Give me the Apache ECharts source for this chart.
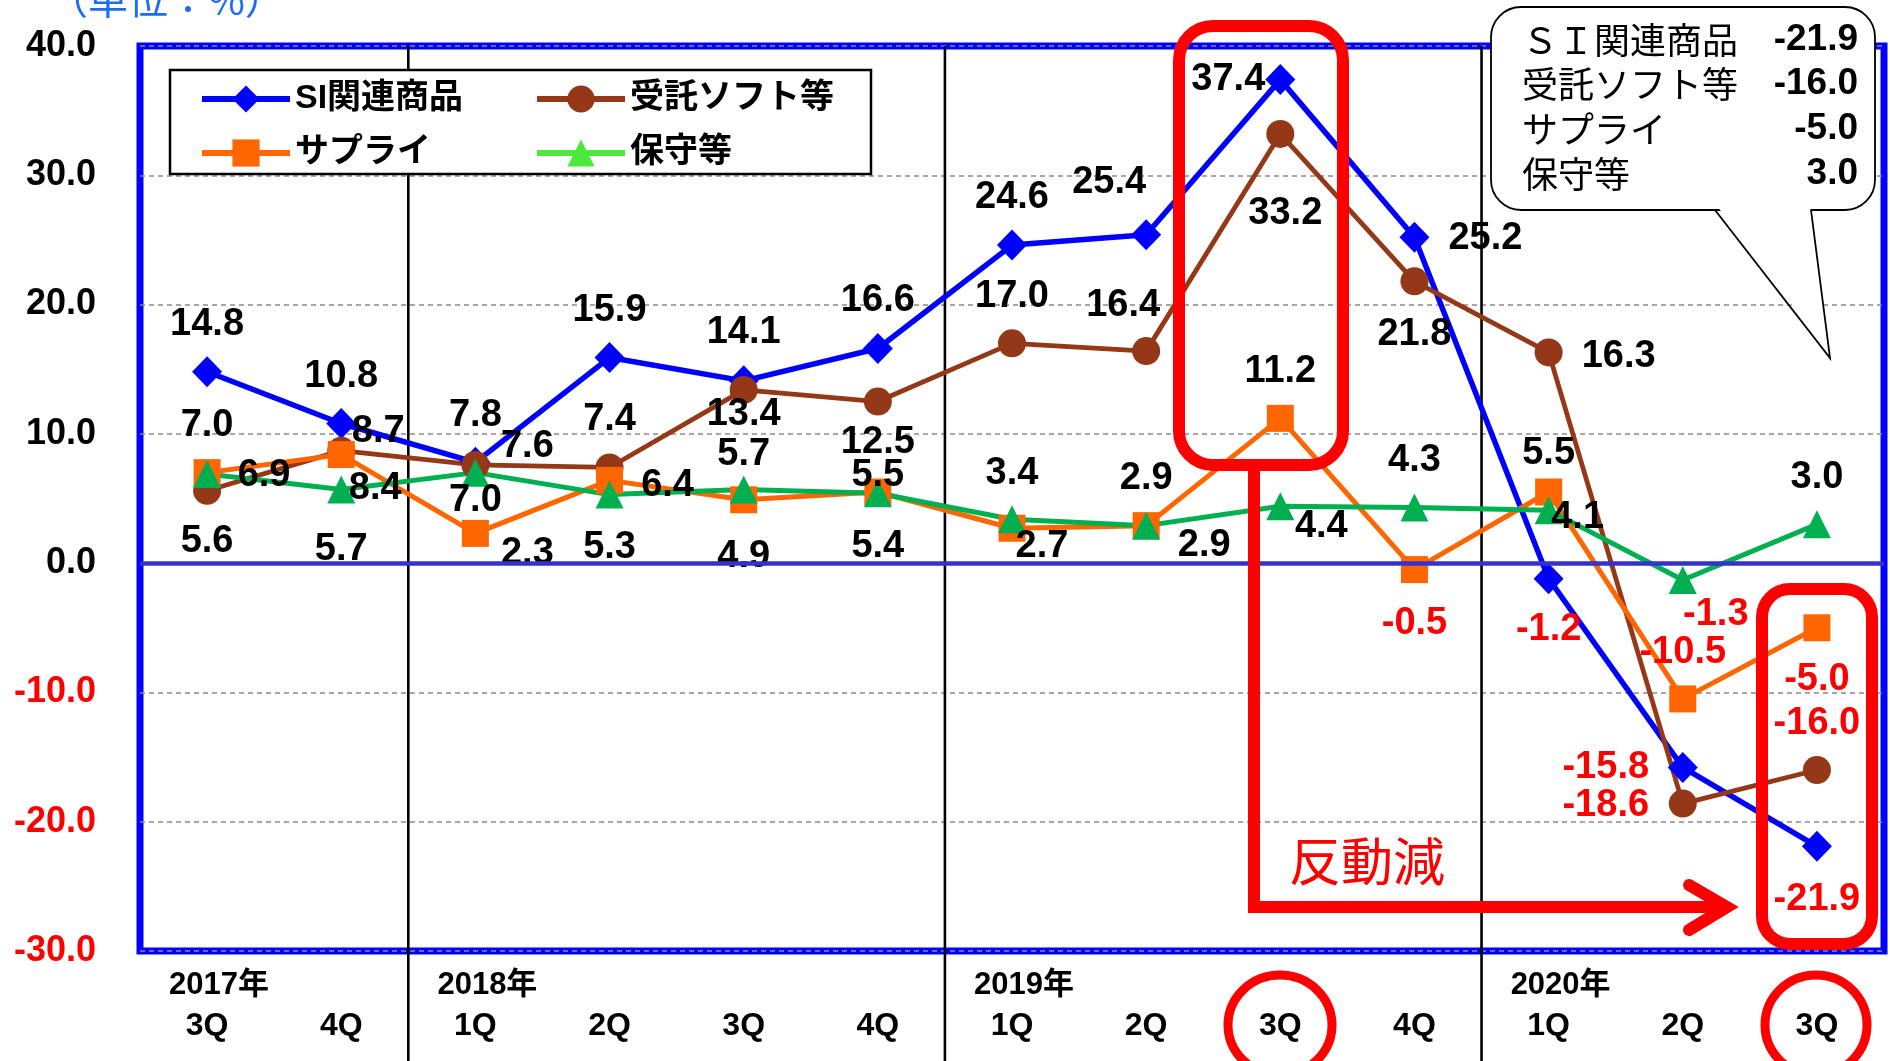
<!DOCTYPE html>
<html>
<head>
<meta charset="utf-8">
<title>SI関連商品 前年同期比</title>
<script src="https://cdn.jsdelivr.net/npm/echarts@6/dist/echarts.min.js"></script>
<style>
    html, body { margin: 0; padding: 0; background: #fff; }
    #main { width: 1890px; height: 1061px; }
</style>
</head>
<body>
<div id="main"></div>
<script>
(function () {
    'use strict';

    // categories (year shown on the first quarter of each year)
    var categories = ['2017年\n3Q', '4Q', '2018年\n1Q', '2Q', '3Q', '4Q', '2019年\n1Q', '2Q', '3Q', '4Q', '2020年\n1Q', '2Q', '3Q'];
    var seriesNames = ['SI関連商品', '受託ソフト等', 'サプライ', '保守等'];
    var calloutNames = ['ＳＩ関連商品', '受託ソフト等', 'サプライ', '保守等'];

    // values (%)
    var siValues = [14.8, 10.8, 7.8, 15.9, 14.1, 16.6, 24.6, 25.4, 37.4, 25.2, -1.2, -15.8, -21.9];
    var jutakuValues = [5.6, 8.7, 7.6, 7.4, 13.4, 12.5, 17.0, 16.4, 33.2, 21.8, 16.3, -18.6, -16.0];
    var supplyValues = [7.0, 8.4, 2.3, 6.4, 4.9, 5.5, 2.7, 2.9, 11.2, -0.5, 5.5, -10.5, -5.0];
    var hoshuValues = [6.9, 5.7, 7.0, 5.3, 5.7, 5.4, 3.4, 2.9, 4.4, 4.3, 4.1, -1.3, 3.0];

    // y axis
    var yMin = -30;
    var yMax = 40;
    var yStep = 10;

    // index of first quarter of each new year (separator lines)
    var yearStartIndex = [2, 6, 10];

    // label placement around each point (px)
    var siLabelOffsets = [[0, -47], [0, -47], [0, -47], [0, -47], [0, -48], [0, -48], [0, -48], [-37, -52], [-52, 0], [71, 1], [0, 51], [-77, 0], [0, 53]];
    var jutakuLabelOffsets = [[0, 51], [37, -19], [52, -18], [0, -48], [0, 25], [0, 41], [0, -47], [-23, -46], [5, 80], [0, 53], [70, 4], [-77, 2], [0, -46]];
    var supplyLabelOffsets = [[0, -47], [34, 34], [52, 20], [58, 5], [0, 57], [0, -17], [30, 18], [58, 20], [0, -47], [0, 54], [0, -39], [0, -46], [0, 52]];
    var hoshuLabelOffsets = [[57, 2], [0, 60], [0, 28], [0, 53], [0, -35], [0, 53], [0, -46], [0, -47], [41, 20], [0, -47], [29, 7], [33, 35], [0, -47]];

    var FONT = '"Liberation Sans", Arial, "Noto Sans CJK JP", sans-serif';

    function buildData(values, offsets) {
        return values.map(function (v, i) {
            return {
                value: v,
                label: { offset: offsets[i], color: v < 0 ? '#ff0000' : '#000000' }
            };
        });
    }

    function lineSeries(name, values, offsets, color, symbol, symbolSize, width) {
        return {
            name: name,
            type: 'line',
            data: buildData(values, offsets),
            symbol: symbol,
            symbolSize: symbolSize,
            showAllSymbol: true,
            lineStyle: { color: color, width: width },
            itemStyle: { color: color, borderWidth: 0 },
            label: {
                show: true,
                position: 'inside',
                fontFamily: FONT,
                fontSize: 38,
                fontWeight: 'bold',
                textBorderWidth: 0,
                formatter: function (p) { return p.value.toFixed(1); }
            },
            emphasis: { disabled: true }
        };
    }

    var legendText = { fontFamily: FONT, fontSize: 34, fontWeight: 'bold', color: '#000' };

    var series = [
        lineSeries(seriesNames[0], siValues, siLabelOffsets, '#0000ff', 'diamond', [30, 31], 5.5),
        lineSeries(seriesNames[1], jutakuValues, jutakuLabelOffsets, '#943818', 'circle', 28, 4.8),
        lineSeries(seriesNames[2], supplyValues, supplyLabelOffsets, '#ff6600', 'rect', 27, 5),
        lineSeries(seriesNames[3], hoshuValues, hoshuLabelOffsets, '#00b050', 'triangle', 28, 5)
    ];
    // zero line
    series[0].markLine = {
        silent: true,
        symbol: ['none', 'none'],
        label: { show: false },
        lineStyle: { color: '#3333cc', width: 4.5, type: 'solid' },
        data: [{ yAxis: 0 }]
    };

    var option = {
        animation: false,
        textStyle: { fontFamily: FONT },
        grid: {
            left: 140, right: 6, top: 46, bottom: 110,
            show: true,
            borderColor: '#0000ff',
            borderWidth: 7
        },
        legend: [
            {
                data: [{ name: seriesNames[0] }, { name: seriesNames[2] }],
                orient: 'vertical', left: 199, top: 82, padding: 0,
                itemWidth: 88, itemHeight: 34, itemGap: 20,
                lineStyle: { width: 6 },
                selectedMode: false, z: 12,
                textStyle: legendText
            },
            {
                data: [{ name: seriesNames[1] },
                    { name: seriesNames[3], itemStyle: { color: '#4de83d' }, lineStyle: { color: '#4de83d', width: 6 } }],
                orient: 'vertical', left: 534, top: 82, padding: 0,
                itemWidth: 88, itemHeight: 34, itemGap: 20,
                lineStyle: { width: 6 },
                selectedMode: false, z: 12,
                textStyle: legendText
            }
        ],
        xAxis: {
            type: 'category',
            data: categories,
            boundaryGap: true,
            axisLine: { show: false, onZero: false },
            axisTick: { show: false },
            splitLine: { show: false },
            axisLabel: {
                interval: 0,
                margin: 14,
                formatter: function (v) {
                    var parts = v.split('\n');
                    return parts.length > 1 ? '{y|' + parts[0] + '}\n{q|' + parts[1] + '}' : '{y| }\n{q|' + v + '}';
                },
                rich: {
                    y: { fontFamily: FONT, fontSize: 31, fontWeight: 'bold', color: '#000', lineHeight: 41, padding: [0, 0, 0, 24] },
                    q: { fontFamily: FONT, fontSize: 32, fontWeight: 'bold', color: '#000', lineHeight: 41 }
                }
            }
        },
        yAxis: {
            type: 'value',
            min: yMin, max: yMax, interval: yStep,
            axisLine: { show: false },
            axisTick: { show: false },
            splitLine: { lineStyle: { color: '#8a8a8a', width: 1.5, type: [5, 4] } },
            axisLabel: {
                margin: 44,
                fontFamily: FONT,
                fontSize: 36,
                fontWeight: 'bold',
                formatter: function (v) { return v.toFixed(1); },
                color: function (v) { return parseFloat(v) < 0 ? '#ff0000' : '#000000'; }
            }
        },
        series: series
    };

    var chart = echarts.init(document.getElementById('main'), null, { renderer: 'canvas' });
    chart.setOption(option);

    // year separators, placed from the axis scale
    var gridTop = chart.convertToPixel({ yAxisIndex: 0 }, yMax);
    var elements = [];
    yearStartIndex.forEach(function (i) {
        var x = (chart.convertToPixel({ xAxisIndex: 0 }, i - 1) + chart.convertToPixel({ xAxisIndex: 0 }, i)) / 2;
        elements.push({
            type: 'line', z: 1, silent: true,
            shape: { x1: x, y1: gridTop, x2: x, y2: 1061 },
            style: { stroke: '#000', lineWidth: 2.6 }
        });
    });

    var RED = '#ff0000';
    elements = elements.concat([
        // unit
        { type: 'text', x: 48, y: -1, z: 13, style: { text: '（単位：%）', font: '40px "Noto Sans CJK JP"', fill: '#1c6cf5', textAlign: 'left', textVerticalAlign: 'middle' } },
        // legend frame
        { type: 'rect', z: 10, shape: { x: 170, y: 70, width: 701, height: 104 }, style: { fill: '#fff', stroke: '#000', lineWidth: 2.5 } },
        // red highlight of 2019 3Q and arrow
        { type: 'rect', z: 10, shape: { x: 1179, y: 26, width: 164, height: 439, r: 34 }, style: { fill: 'none', stroke: RED, lineWidth: 12 } },
        { type: 'polyline', z: 10, shape: { points: [[1254, 465], [1254, 907], [1722, 907]] }, style: { stroke: RED, lineWidth: 12, fill: 'none' } },
        { type: 'polyline', z: 10, shape: { points: [[1689, 885], [1727, 907], [1689, 930]] }, style: { stroke: RED, lineWidth: 12, fill: 'none', lineCap: 'round' } },
        { type: 'text', x: 1367, y: 861, z: 13, style: { text: '反動減', font: '52px "Noto Sans CJK JP"', fill: RED, textAlign: 'center', textVerticalAlign: 'middle' } },
        { type: 'rect', z: 10, shape: { x: 1762, y: 589, width: 110, height: 355, r: 28 }, style: { fill: 'none', stroke: RED, lineWidth: 12 } },
        { type: 'ellipse', z: 10, shape: { cx: 1280, cy: 1025, rx: 52, ry: 50 }, style: { fill: 'none', stroke: RED, lineWidth: 9 } },
        { type: 'ellipse', z: 10, shape: { cx: 1816, cy: 1025, rx: 51, ry: 50 }, style: { fill: 'none', stroke: RED, lineWidth: 9 } },
        // callout with latest values
        { type: 'rect', z: 10, shape: { x: 1491, y: 7, width: 384, height: 203, r: 30 }, style: { fill: '#fff', stroke: '#000', lineWidth: 1.8 } },
        { type: 'polygon', z: 11, shape: { points: [[1717, 206], [1810, 206], [1829, 354]] }, style: { fill: '#fff' } },
        { type: 'polyline', z: 12, shape: { points: [[1715, 210], [1830, 358], [1811, 210]] }, style: { stroke: '#000', lineWidth: 1.8, fill: 'none' } }
    ]);

    var lastValues = [siValues, jutakuValues, supplyValues, hoshuValues].map(function (arr) {
        return arr[arr.length - 1];
    });
    var rowY = [40, 84, 129, 174];
    calloutNames.forEach(function (name, i) {
        elements.push({ type: 'text', x: 1522, y: rowY[i], z: 13,
            style: { text: name, font: '36px "Noto Sans CJK JP"', fill: '#000', textAlign: 'left', textVerticalAlign: 'middle' } });
        elements.push({ type: 'text', x: 1858, y: rowY[i], z: 13,
            style: { text: lastValues[i].toFixed(1), font: 'bold 37px "Liberation Sans", Arial, sans-serif', fill: '#000', textAlign: 'right', textVerticalAlign: 'middle' } });
    });

    chart.setOption({ graphic: { elements: elements } });
})();
</script>
</body>
</html>
